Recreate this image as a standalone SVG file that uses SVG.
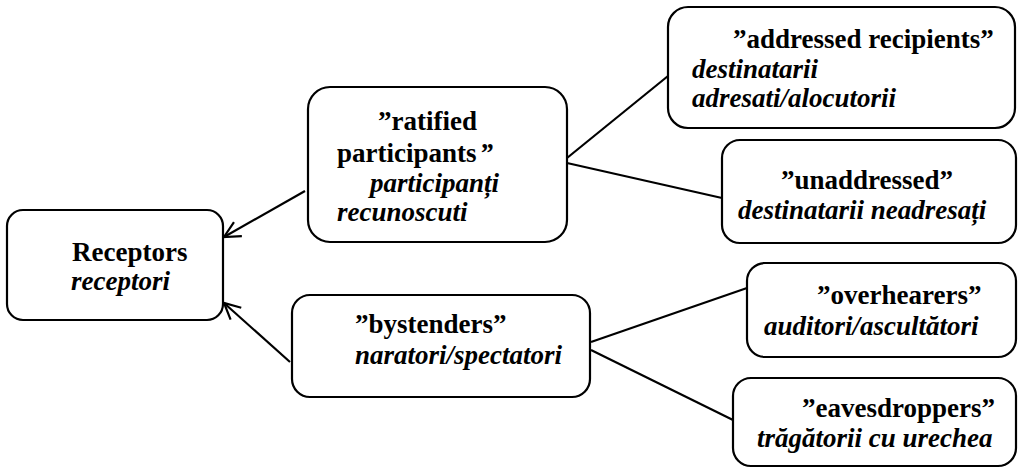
<svg xmlns="http://www.w3.org/2000/svg" width="1019" height="469" viewBox="0 0 1019 469">
<style>
.box{fill:#fff;stroke:#000;stroke-width:2.2}
text{font-family:'Liberation Serif','Times New Roman',Times,serif;font-size:27px;font-weight:bold;fill:#000}
.i{font-style:italic}
.ln{stroke:#000;stroke-width:2.2;fill:none}
</style>
<defs>
<marker id="arr" viewBox="0 0 20 20" refX="18" refY="10" markerWidth="20" markerHeight="20" markerUnits="userSpaceOnUse" orient="auto">
<path d="M2,2 L18,10 L2,18" fill="none" stroke="#000" stroke-width="2.2"/>
</marker>
<clipPath id="clipR"><rect x="308" y="87" width="259" height="137"/></clipPath>
</defs>
<g id="connectors">
<line class="ln" x1="305" y1="191" x2="224" y2="237" marker-end="url(#arr)"/>
<line class="ln" x1="290" y1="362" x2="224" y2="303" marker-end="url(#arr)"/>
<line class="ln" x1="567" y1="158" x2="668" y2="76"/>
<line class="ln" x1="567" y1="163" x2="722" y2="198"/>
<line class="ln" x1="591" y1="342" x2="747" y2="288"/>
<line class="ln" x1="591" y1="350" x2="733" y2="420"/>
</g>
<g id="receptors">
<rect class="box" x="7" y="210" width="216" height="110" rx="16"/>
<text x="72" y="261">Receptors</text>
<text class="i" x="71" y="290">receptori</text>
</g>
<g id="ratified">
<rect class="box" x="308" y="87" width="259" height="155" rx="22"/>
<text x="378" y="130">”ratified</text>
<text x="337" y="162">participants<tspan class="i" dx="3">”</tspan></text>
<text class="i" x="370" y="192">participanți</text>
<text class="i" x="337" y="221" clip-path="url(#clipR)">recunoscuti</text>
</g>
<g id="addressed">
<rect class="box" x="668" y="7" width="347" height="121" rx="20"/>
<text x="733" y="48">”addressed recipients”</text>
<text class="i" x="692" y="78">destinatarii</text>
<text class="i" x="692" y="107">adresati/alocutorii</text>
</g>
<g id="unaddressed">
<rect class="box" x="722" y="140" width="294" height="103" rx="18"/>
<text x="781" y="189">”unaddressed”</text>
<text class="i" x="738" y="219">destinatarii neadresați</text>
</g>
<g id="bystenders">
<rect class="box" x="292" y="295" width="298" height="102" rx="18"/>
<text x="355" y="333">”bystenders”</text>
<text class="i" x="355" y="364">naratori/spectatori</text>
</g>
<g id="overhearers">
<rect class="box" x="747" y="263" width="269" height="94" rx="18"/>
<text x="817" y="304">”overhearers”</text>
<text class="i" x="764" y="335">auditori/ascultători</text>
</g>
<g id="eavesdroppers">
<rect class="box" x="733" y="378" width="283" height="88" rx="18"/>
<text x="802" y="417">”eavesdroppers”</text>
<text class="i" x="757" y="447">trăgătorii cu urechea</text>
</g>
</svg>
